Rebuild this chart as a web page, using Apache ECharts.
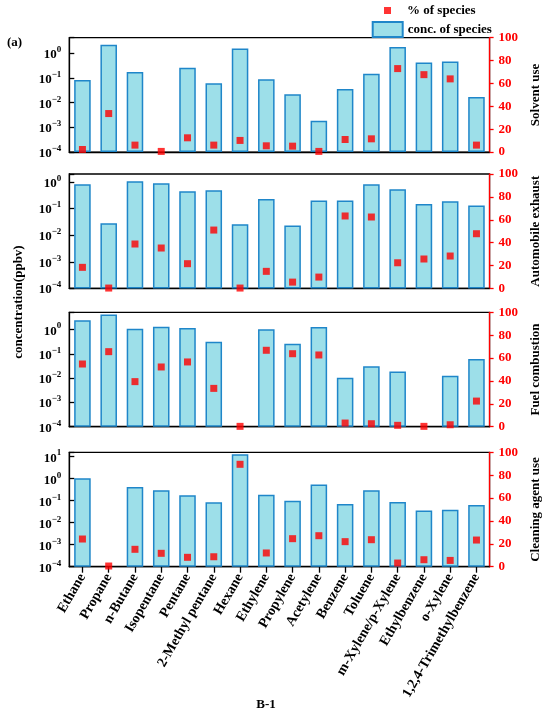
<!DOCTYPE html>
<html>
<head>
<meta charset="utf-8">
<script src="https://cdn.jsdelivr.net/npm/echarts@6/dist/echarts.min.js"></script>
<style>
html, body { margin: 0; padding: 0; background: #fff; }
#chart { width: 550px; height: 717px; }
</style>
</head>
<body>
<div id="chart"></div>
<script>
// species on the x axis
var species = ['Ethane', 'Propane', 'n-Butane', 'Isopentane', 'Pentane', '2-Methyl pentane', 'Hexane',
    'Ethylene', 'Propylene', 'Acetylene', 'Benzene', 'Toluene', 'm-Xylene/p-Xylene', 'Ethylbenzene',
    'o-Xylene', '1,2,4-Trimethylbenzene'];

// source names (right axis titles)
var sources = ['Solvent use', 'Automobile exhaust', 'Fuel combustion', 'Cleaning agent use'];

// concentration (ppbv), null = no bar
var solventConc = [0.083, 2.2, 0.176, null, 0.26, 0.061, 1.55, 0.089, 0.022, 0.00185, 0.036, 0.15, 1.8, 0.42, 0.47, 0.017];
var autoConc = [0.82, 0.028, 1.06, 0.89, 0.45, 0.49, 0.026, 0.23, 0.023, 0.2, 0.2, 0.82, 0.53, 0.15, 0.19, 0.13];
var fuelConc = [2.43, 4.2, 1.1, 1.33, 1.17, 0.32, null, 1.03, 0.26, 1.29, 0.0105, 0.031, 0.019, null, 0.0126, 0.062];
var cleanConc = [1.04, null, 0.42, 0.295, 0.175, 0.084, 12.8, 0.187, 0.1, 0.55, 0.07, 0.295, 0.087, 0.036, 0.039, 0.063];

// % of species
var solventPct = [2.3, 33.7, 6.1, 0.6, 12.5, 6.1, 10.2, 5.5, 5.2, 0.6, 11, 11.6, 73, 67.7, 64, 6.1];
var autoPct = [18.4, 0.3, 38.8, 35.3, 21.6, 51, 0.3, 14.9, 5.5, 9.9, 63.3, 62.4, 22.4, 25.7, 28.3, 47.8];
var fuelPct = [54.8, 65.6, 39.4, 52.2, 56.6, 33.5, 0.3, 66.8, 63.8, 62.7, 3.2, 2.6, 1.2, 0.3, 1.7, 22.4];
var cleanPct = [24.2, 0.6, 15.2, 11.7, 8.2, 8.7, 89.5, 12, 24.5, 27.1, 21.9, 23.6, 3.2, 6.1, 5.5, 23.3];

var concs = [solventConc, autoConc, fuelConc, cleanConc];
var pcts = [solventPct, autoPct, fuelPct, cleanPct];

var font = '"Liberation Serif", "Times New Roman", serif';
var gridTops = [37.7, 174, 312.3, 452.3];
var logMax = [4.27, 2.0, 5.2, 15.8];

var myChart = echarts.init(document.getElementById('chart'));

// 10^n labels, only on whole decades
function powLabel(v) {
    var l = Math.log10(v);
    var e = Math.round(l);
    if (Math.abs(l - e) > 1e-6) return '';
    return '{b|10}{s|' + (e < 0 ? '\u2212' + (-e) : e) + '}';
}

var grids = [], xAxes = [], yAxes = [], series = [];
for (var i = 0; i < 4; i++) {
    var last = i == 3;
    grids.push({
        left: 69.3, right: 57, top: gridTops[i], height: 114.4,
        show: true, borderColor: '#000', borderWidth: 1.3, backgroundColor: 'transparent'
    });
    xAxes.push({
        type: 'category', gridIndex: i, data: species,
        axisLine: { lineStyle: { color: '#000', width: 1.3 } },
        axisTick: { show: last, alignWithLabel: true, length: 6, lineStyle: { color: '#000', width: 1.3 } },
        axisLabel: {
            show: last, rotate: 60, interval: 0, margin: 8,
            color: '#000', fontFamily: font, fontWeight: 'bold', fontSize: 14
        }
    });
    yAxes.push({
        type: 'log', gridIndex: i, logBase: 10, min: 0.0001, max: logMax[i], startValue: 0.0001,
        axisLine: { show: true, lineStyle: { color: '#000', width: 1.3 } },
        axisTick: { show: true, inside: true, length: 5, lineStyle: { color: '#000', width: 1.3 } },
        splitLine: { show: false },
        axisLabel: {
            margin: 8, color: '#000', formatter: powLabel,
            rich: {
                b: { fontFamily: font, fontWeight: 'bold', fontSize: 13, color: '#000', verticalAlign: 'bottom' },
                s: { fontFamily: font, fontWeight: 'bold', fontSize: 9, color: '#000', verticalAlign: 'bottom', padding: [0, 0, 7, 0] }
            }
        }
    });
    yAxes.push({
        type: 'value', gridIndex: i, position: 'right', min: 0, max: 100, interval: 20,
        name: sources[i], nameLocation: 'middle', nameRotate: 90, nameGap: 34,
        nameTextStyle: { color: '#000', fontFamily: font, fontWeight: 'bold', fontSize: 13 },
        axisLine: { show: true, lineStyle: { color: '#ff0000', width: 1.3 } },
        axisTick: { show: true, length: 4, lineStyle: { color: '#ff0000', width: 1.3 } },
        splitLine: { show: false },
        axisLabel: { margin: 9, color: '#ff0000', fontFamily: font, fontWeight: 'bold', fontSize: 13 }
    });
    series.push({
        name: 'conc. of species', type: 'bar', xAxisIndex: i, yAxisIndex: 2 * i,
        data: concs[i], barWidth: '63%',
        itemStyle: { color: '#9ddfe9', borderColor: '#1f86c9', borderWidth: 1.5 }
    });
    series.push({
        name: '% of species', type: 'scatter', xAxisIndex: i, yAxisIndex: 2 * i + 1,
        data: pcts[i], symbol: 'rect', symbolSize: 7, z: 5,
        itemStyle: { color: '#ff0000' }
    });
}
// inner half of the crossing ticks on the bottom panel
xAxes.push({
    type: 'category', gridIndex: 3, data: species, position: 'bottom',
    axisLine: { show: false },
    axisTick: { show: true, inside: true, alignWithLabel: true, length: 6, lineStyle: { color: '#000', width: 1.3 } },
    axisLabel: { show: false }
});

var option = {
    animation: false,
    backgroundColor: '#fff',
    grid: grids,
    xAxis: xAxes,
    yAxis: yAxes,
    series: series,
    legend: [{
        left: 384, top: 4, padding: 0, itemWidth: 7, itemHeight: 7, icon: 'rect',
        data: ['% of species'],
        textStyle: { color: '#000', fontFamily: font, fontWeight: 'bold', fontSize: 13, padding: [0, 0, 0, 11] }
    }, {
        left: 371.7, top: 21, padding: 0, itemWidth: 30, itemHeight: 15, icon: 'rect',
        data: ['conc. of species'],
        textStyle: { color: '#000', fontFamily: font, fontWeight: 'bold', fontSize: 13 }
    }],
    graphic: [{
        type: 'text', left: 7, top: 36,
        style: { text: '(a)', font: 'bold 13px ' + font, fill: '#000' }
    }, {
        type: 'text', x: 19, y: 302, rotation: Math.PI / 2,
        style: { text: 'concentration(ppbv)', font: 'bold 13px ' + font, fill: '#000', align: 'center', verticalAlign: 'middle' }
    }, {
        type: 'text', x: 266, y: 705,
        style: { text: 'B-1', font: 'bold 13px ' + font, fill: '#000', align: 'center', verticalAlign: 'middle' }
    }]
};
myChart.setOption(option);
</script>
</body>
</html>
